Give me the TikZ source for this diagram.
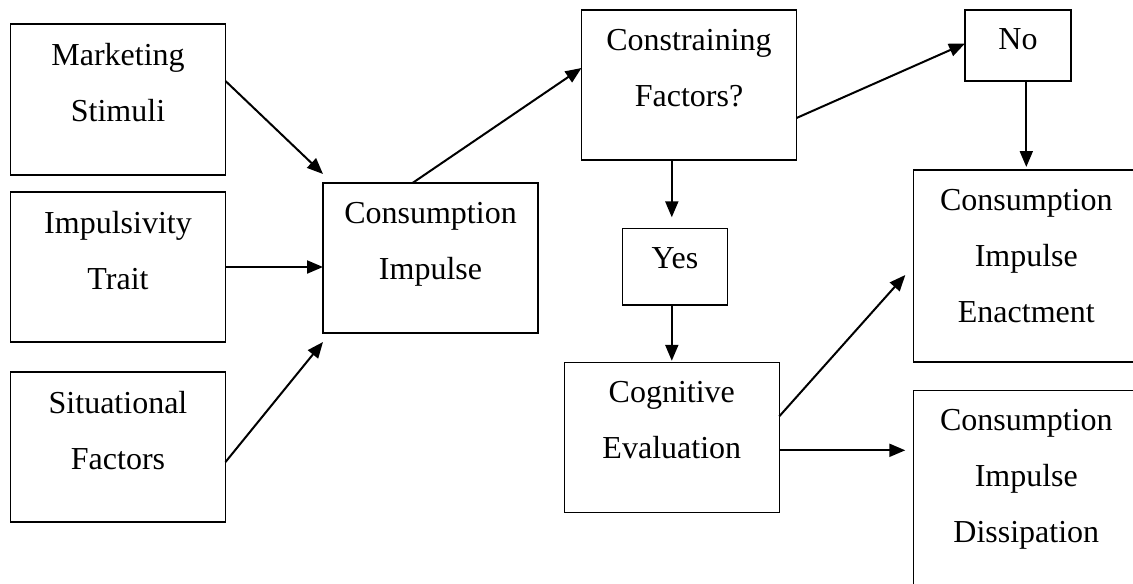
\documentclass[tikz,border=0pt]{standalone}
\usepackage{fontspec}
\setmainfont{Liberation Serif}
\usepackage{tikz}
\usetikzlibrary{arrows.meta,calc}

\begin{document}
\begin{tikzpicture}[x=0.5pt, y=-0.5pt,
  box/.style={draw, line width=0.75pt, rectangle, inner sep=0pt, outer sep=0pt, anchor=north west},
  txt/.style={anchor=north, align=center, inner sep=0pt, font=\fontsize{16}{28}\selectfont},
  arr/.style={-{Triangle[length=8pt,width=6.5pt]}, line width=1pt}]
% frame in pixel units, y grows downwards
\useasboundingbox (0,0) rectangle (1133,583);
\clip (0,0) rectangle (1133,583);
% input column
\node[box, minimum width=107.5pt, minimum height=75.5pt] (mkt) at (10.5,24) {};
\node[box, minimum width=107.5pt, minimum height=75pt] (imp) at (10.5,192) {};
\node[box, minimum width=107.5pt, minimum height=75pt] (sit) at (10.5,372) {};
% impulse and decision
\node[box, minimum width=107.5pt, minimum height=75pt] (ci) at (323,183) {};
\node[box, minimum width=107.5pt, minimum height=75pt] (cons) at (581.5,10) {};
\node[box, minimum width=53pt, minimum height=35.5pt] (no) at (965,10) {};
\node[box, minimum width=52.7pt, minimum height=38.3pt] (yes) at (622.3,228.3) {};
\node[box, minimum width=107.5pt, minimum height=75pt] (cog) at (564.3,362.3) {};
% outcomes (run off the right and bottom edge)
\node[box, minimum width=113pt, minimum height=96pt] (enact) at (913.3,170) {};
\node[box, minimum width=113pt, minimum height=98pt] (diss) at (913.3,390.7) {};
% texts, top aligned in each box
\foreach \b/\t in {mkt/{Marketing\\Stimuli}, imp/{Impulsivity\\Trait},
    sit/{Situational\\Factors}, ci/{Consumption\\Impulse},
    cons/{Constraining\\Factors?}, no/{No}, yes/{Yes},
    cog/{Cognitive\\Evaluation}, enact/{Consumption\\Impulse\\Enactment},
    diss/{Consumption\\Impulse\\Dissipation}}{
  \node[txt] (\b-t) at ($(\b.north)+(0,18.5)$) {\t};
}
% arrows
\draw[arr] ($(mkt.north east)+(0,57)$) -- ($(ci.north west)+(0,-9)$);
\draw[arr] (imp.east) -- (ci.west |- imp.east);
\draw[arr] ($(sit.east)+(0,15)$) -- ($(ci.south west)+(0,9)$);
\draw[arr] ($(ci.north)+(-18,0)$) -- ($(cons.west)+(0,-17)$);
\draw[arr] ($(cons.east)+(0,33)$) -- ($(no.west)+(0,-2)$);
\draw[arr] (no.south -| enact.north) -- ($(enact.north)+(0,-3)$);
\draw[arr] (cons.south -| cog.north) -- ($(yes.north -| cog.north)+(0,-11)$);
\draw[arr] (yes.south -| cog.north) -- ($(cog.north)+(0,-1.5)$);
\draw[arr] ($(cog.east)+(0,-21)$) -- ($(enact.west)+(-8,9)$);
\draw[arr] ($(cog.east)+(0,13)$) -- ($(diss.west |- cog.east)+(-8,13)$);
\end{tikzpicture}
\end{document}
